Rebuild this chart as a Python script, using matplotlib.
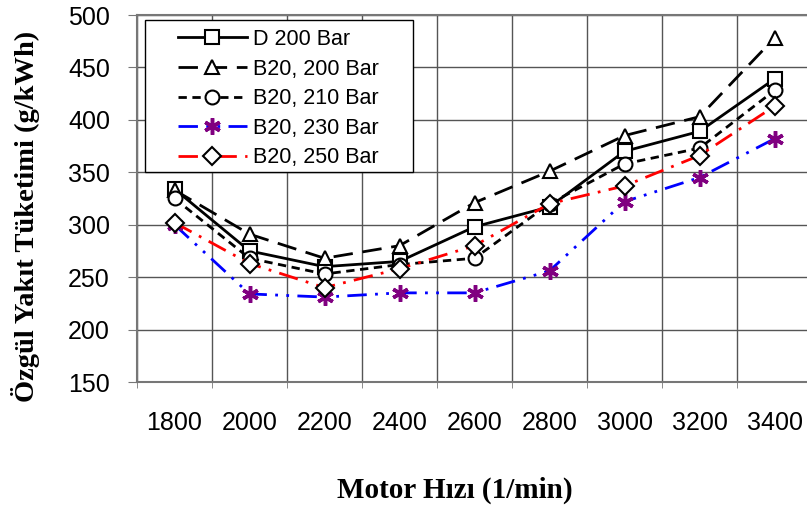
import numpy as np
import matplotlib.pyplot as plt
import matplotlib as mpl
from matplotlib.patches import Rectangle

mpl.rcParams['font.family'] = ['Liberation Sans', 'DejaVu Sans']

# data
speeds = ['1800', '2000', '2200', '2400', '2600', '2800', '3000', '3200', '3400']
d200 = [334, 275, 260, 265, 298, 317, 370, 389, 439]
b20_200 = [333, 291, 268, 280, 321, 351, 385, 403, 478]
b20_210 = [325, 268, 253, 262, 268, 320, 358, 373, 428]
b20_230 = [300, 234, 231, 235, 235, 256, 322, 345, 382]
b20_250 = [302, 263, 240, 258, 280, 320, 337, 366, 413]

x = np.arange(len(speeds))

W, H = 807, 514
fig = plt.figure(figsize=(W / 100, H / 100), dpi=100)
# right edge runs a little past the image, as in the original
ax = fig.add_axes([137 / W, 1 - 382 / H, 675 / W, 367 / H])

ms = 10
ax.plot(x, d200, color='black', lw=2, ls='-', marker='s', ms=ms,
        mfc='white', mec='black', mew=1.5, label='D 200 Bar')
ax.plot(x, b20_200, color='black', lw=2, ls=(0, (7, 3.5)), marker='^', ms=ms,
        mfc='white', mec='black', mew=1.5, label='B20, 200 Bar')
ax.plot(x, b20_210, color='black', lw=2, ls=(0, (3, 2)), marker='o', ms=ms,
        mfc='white', mec='black', mew=1.5, label='B20, 210 Bar')
ax.plot(x, b20_230, color='blue', lw=2, ls=(0, (7, 3, 1, 3, 1, 3)), marker=(6, 2, 0), ms=ms + 2,
        mec='#800080', mew=2.5, label='B20, 230 Bar')
ax.plot(x, b20_250, color='red', lw=2, ls=(0, (7, 3, 1, 3)), marker='D', ms=ms - 1,
        mfc='white', mec='black', mew=1.5, label='B20, 250 Bar')

ax.set_xlim(-0.5, len(speeds) - 0.5)
ax.set_ylim(150, 500)
ax.set_yticks(np.arange(150, 501, 50))
ax.set_xticks(x)
ax.set_xticklabels(speeds)
ax.set_xticks(np.arange(-0.5, len(speeds), 1), minor=True)
ax.tick_params(axis='x', which='major', length=0, labelsize=18, pad=21)
ax.tick_params(axis='x', which='minor', length=4.5, direction='out', color='#777777')
ax.tick_params(axis='y', labelsize=18, length=6.5, direction='out', color='#777777', pad=13)
ax.grid(True, which='minor', axis='x', color='#555555', lw=1)
ax.grid(True, which='major', axis='y', color='#555555', lw=1)
for s in ax.spines.values():
    s.set_color('#777777')
    s.set_linewidth(1.5)

fig.text(26 / W, 1 - 216 / H, 'Özgül Yakıt Tüketimi (g/kWh)', fontsize=20.5, fontweight='bold',
         family='Liberation Serif', rotation=90, ha='center', va='center')
fig.text(455 / W, 1 - 490 / H, 'Motor Hızı (1/min)', fontsize=21, fontweight='bold',
         family='Liberation Serif', ha='center', va='center')

# legend box drawn by hand, legend itself without frame
box = Rectangle((145 / W, 1 - 172 / H), 268 / W, 152 / H, transform=fig.transFigure,
                facecolor='white', edgecolor='black', lw=1, zorder=4)
ax.add_patch(box)
box.set_clip_on(False)
leg = ax.legend(loc='upper left', bbox_to_anchor=(178 / W, 1 - 29 / H),
                bbox_transform=fig.transFigure, fontsize=15.5, frameon=False,
                handlelength=3.2, handletextpad=0.3, borderpad=0, borderaxespad=0,
                labelspacing=0.4)
leg.set_zorder(5)

plt.savefig('out.png', dpi=100)
